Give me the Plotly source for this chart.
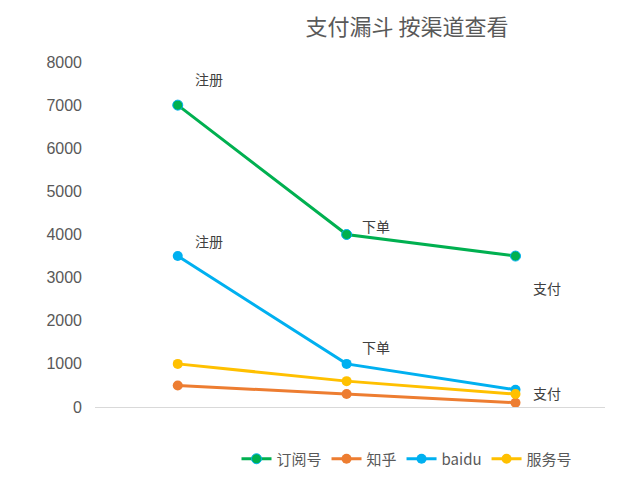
import plotly.graph_objects as go

categories = ["注册", "下单", "支付"]
series_names = ["订阅号", "知乎", "baidu", "服务号"]
dingyuehao = [7000, 4000, 3500]
zhihu = [500, 300, 100]
baidu = [3500, 1000, 400]
fuwuhao = [1000, 600, 300]
stage_labels = ["注册", "下单", "支付"]
y_ticks = [0, 1000, 2000, 3000, 4000, 5000, 6000, 7000, 8000]

colors = ["#00B050", "#ED7D31", "#00B0F0", "#FFC000"]
values = [dingyuehao, zhihu, baidu, fuwuhao]
xpos = [0, 1, 2]

fig = go.Figure()
for name, vals, col in zip(series_names, values, colors):
    mline = dict(width=1, color="#00B0F0") if name == "订阅号" else dict(width=0)
    fig.add_trace(go.Scatter(
        x=xpos, y=vals, name=name, mode="lines+markers",
        line=dict(color=col, width=3),
        marker=dict(color=col, size=10, line=mline),
    ))

font_cjk = "Noto Sans CJK SC, Microsoft YaHei, sans-serif"
shifts_green = [(31, 26), (29, 9), (31, -32)]
shifts_blue = [(31, 15), (29, 17), (31, -3)]
for i, lab in enumerate(stage_labels):
    fig.add_annotation(x=xpos[i], y=dingyuehao[i], text=lab, showarrow=False,
                       xshift=shifts_green[i][0], yshift=shifts_green[i][1],
                       font=dict(size=14, color="#404040", family=font_cjk))
    fig.add_annotation(x=xpos[i], y=baidu[i], text=lab, showarrow=False,
                       xshift=shifts_blue[i][0], yshift=shifts_blue[i][1],
                       font=dict(size=14, color="#404040", family=font_cjk))

fig.update_layout(
    width=619, height=478,
    margin=dict(l=87, r=22, t=54, b=79, autoexpand=False),
    paper_bgcolor="white", plot_bgcolor="white",
    font=dict(family=font_cjk, color="#595959"),
    title=dict(text="支付漏斗 按渠道查看", x=399/619, xanchor="center",
               y=1-19/478, yanchor="middle", yref="container",
               font=dict(size=22, color="#595959", family=font_cjk)),
    xaxis=dict(range=[-0.49, 2.53], showticklabels=False, showgrid=False,
               zeroline=False, showline=True, linecolor="#D9D9D9", linewidth=1,
               ticks=""),
    yaxis=dict(range=[0, 8000], tickvals=y_ticks, showgrid=False, zeroline=False,
               showline=False, ticks="", ticklabelstandoff=12,
               tickfont=dict(size=16, color="#595959", family="Liberation Sans, Arial")),
    legend=dict(orientation="h", x=(407-95)/510, xanchor="center",
                y=-52/345, yanchor="middle",
                font=dict(size=15, color="#595959", family=font_cjk),
                itemwidth=30, tracegroupgap=0),
    showlegend=True,
)

fig.write_html("out.html")
